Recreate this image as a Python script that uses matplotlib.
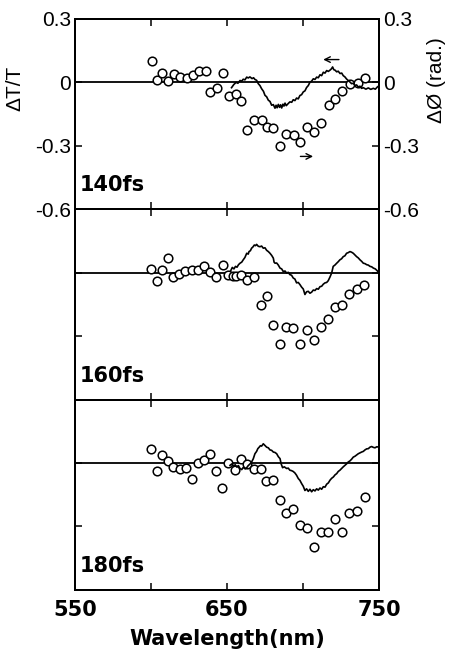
import numpy as np
import matplotlib
matplotlib.use('Agg')
import matplotlib.pyplot as plt

plt.rcParams['font.family'] = ['Liberation Sans', 'DejaVu Sans']
plt.rcParams['axes.unicode_minus'] = False

# Transmision (circulos, eje izquierdo)
Onda_T140 = [600.4, 603.7, 607.4, 611.4, 614.9, 619.1, 623.5, 627.4, 631.6, 636.0, 639.0, 643.4,
             647.6, 651.3, 655.7, 659.4, 663.4, 667.8, 672.8, 676.5, 680.5, 685.0, 688.8, 694.0,
             698.0, 702.4, 707.4, 711.8, 717.1, 721.3, 725.9, 730.9, 736.0, 740.8]
DT_140 = [0.100, 0.010, 0.045, 0.006, 0.040, 0.025, 0.020, 0.033, 0.053, 0.053, -0.045, -0.027,
          0.044, -0.066, -0.053, -0.088, -0.225, -0.180, -0.178, -0.210, -0.217, -0.300, -0.244, -0.249,
          -0.283, -0.212, -0.233, -0.190, -0.108, -0.080, -0.041, -0.006, -0.003, 0.020]

Onda_T160 = [600.0, 603.7, 607.4, 611.4, 614.7, 618.6, 622.6, 626.8, 631.1, 634.9, 638.8, 642.8,
             647.2, 650.9, 654.1, 655.7, 659.0, 663.4, 667.8, 672.2, 676.1, 680.5, 685.1, 688.8,
             693.6, 698.0, 702.4, 707.2, 711.8, 716.6, 721.1, 725.9, 730.5, 735.3, 740.3]
DT_160 = [0.019, -0.041, 0.011, 0.069, -0.022, -0.005, 0.006, 0.011, 0.014, 0.033, 0.003, -0.020,
          0.038, -0.009, -0.014, -0.017, -0.011, -0.036, -0.022, -0.151, -0.108, -0.245, -0.339, -0.259,
          -0.262, -0.339, -0.270, -0.319, -0.259, -0.220, -0.161, -0.151, -0.100, -0.076, -0.056]

Onda_T180 = [600.0, 603.7, 607.4, 611.4, 614.7, 619.1, 623.0, 627.2, 631.1, 634.9, 638.8, 642.8,
             646.9, 650.9, 655.3, 659.0, 662.9, 667.8, 672.2, 675.7, 680.5, 685.1, 688.8, 693.6,
             698.0, 702.4, 707.2, 711.6, 716.6, 721.1, 725.9, 730.5, 735.3, 740.8]
DT_180 = [0.064, -0.036, 0.036, 0.009, -0.019, -0.027, -0.023, -0.077, 0.000, 0.016, 0.044, -0.039,
          -0.116, 0.002, -0.031, 0.021, -0.003, -0.027, -0.027, -0.086, -0.081, -0.175, -0.237, -0.216,
          -0.295, -0.309, -0.397, -0.328, -0.328, -0.265, -0.325, -0.237, -0.226, -0.161]

# Fase (linea, eje derecho)
Onda_F140 = [653.0, 654.5, 656.0, 657.2, 658.6, 659.7, 660.7, 661.8, 663.0, 664.0, 665.1, 666.5,
             667.5, 668.4, 669.5, 670.6, 671.7, 672.8, 674.0, 675.0, 676.1, 677.2, 678.3, 679.4,
             680.5, 681.6, 682.3, 683.0, 683.8, 684.6, 685.3, 686.0, 686.8, 687.5, 688.2, 689.0,
             690.3, 691.4, 692.6, 693.6, 694.7, 695.8, 696.9, 698.0, 699.1, 700.2, 701.3, 702.4,
             703.5, 704.6, 705.7, 706.8, 707.9, 709.0, 710.1, 711.2, 712.3, 713.4, 714.5, 715.6,
             716.7, 717.8, 718.7, 719.5, 720.3, 721.1, 722.2, 723.2, 724.4, 725.5, 726.5, 727.6,
             728.7, 729.8, 730.9, 732.0, 733.1, 734.2, 735.3, 736.4, 737.5, 738.6, 739.7, 741.4,
             743.0, 744.6, 746.3, 747.6, 748.9, 750.0]
DF_140 = [-0.025, -0.010, 0.000, -0.004, 0.009, 0.006, 0.015, 0.012, 0.025, 0.021, 0.026, 0.018,
          0.022, 0.014, 0.010, -0.006, -0.015, -0.030, -0.042, -0.061, -0.068, -0.084, -0.090, -0.108,
          -0.105, -0.122, -0.108, -0.120, -0.104, -0.118, -0.106, -0.121, -0.103, -0.112, -0.098, -0.110,
          -0.100, -0.092, -0.094, -0.082, -0.086, -0.074, -0.078, -0.062, -0.058, -0.045, -0.040, -0.024,
          -0.015, 0.001, 0.006, 0.017, 0.014, 0.025, 0.022, 0.036, 0.032, 0.048, 0.044, 0.056,
          0.052, 0.058, 0.064, 0.073, 0.060, 0.058, 0.050, 0.053, 0.042, 0.044, 0.032, 0.026,
          0.016, 0.009, 0.002, -0.006, -0.004, -0.014, -0.012, -0.022, -0.018, -0.028, -0.025, -0.032,
          -0.026, -0.033, -0.028, -0.032, -0.022, -0.016]

Onda_F160 = [652.5, 653.5, 654.6, 655.6, 656.6, 657.6, 658.6, 659.7, 660.7, 661.8, 663.0, 664.0,
             664.5, 665.4, 666.2, 667.1, 668.0, 668.8, 669.5, 670.6, 671.7, 672.8, 673.9, 675.0,
             676.1, 677.2, 678.3, 679.4, 680.5, 681.0, 681.6, 682.7, 683.8, 684.9, 686.0, 687.0,
             688.2, 689.3, 690.3, 691.4, 692.5, 693.6, 694.7, 695.8, 696.9, 698.0, 699.1, 700.2,
             701.3, 702.4, 703.5, 704.6, 705.7, 706.8, 707.9, 709.0, 710.1, 711.2, 712.3, 713.4,
             714.5, 715.6, 716.6, 717.8, 718.9, 719.9, 721.0, 722.2, 723.2, 724.3, 725.4, 726.5,
             727.6, 728.7, 729.8, 730.9, 732.0, 733.1, 734.2, 735.3, 736.4, 737.5, 738.6, 739.7,
             740.8, 741.9, 743.0, 744.1, 745.2, 746.3, 747.6, 748.9, 750.0]
DF_160 = [0.010, 0.025, 0.018, 0.030, 0.026, 0.038, 0.045, 0.050, 0.061, 0.072, 0.092, 0.088,
          0.100, 0.104, 0.116, 0.122, 0.131, 0.128, 0.134, 0.125, 0.123, 0.126, 0.116, 0.118,
          0.106, 0.100, 0.092, 0.082, 0.069, 0.050, 0.045, 0.046, 0.036, 0.022, 0.018, 0.006,
          0.008, -0.002, 0.002, -0.009, -0.012, -0.025, -0.030, -0.048, -0.046, -0.056, -0.068, -0.077,
          -0.103, -0.090, -0.088, -0.097, -0.092, -0.082, -0.084, -0.075, -0.078, -0.066, -0.064, -0.054,
          -0.048, -0.046, -0.038, -0.020, -0.001, 0.030, 0.036, 0.045, 0.052, 0.061, 0.066, 0.076,
          0.080, 0.092, 0.095, 0.100, 0.097, 0.092, 0.084, 0.076, 0.070, 0.061, 0.054, 0.045,
          0.043, 0.038, 0.036, 0.030, 0.028, 0.022, 0.018, 0.009, -0.001]

Onda_F180 = [652.0, 653.2, 654.3, 655.4, 656.4, 657.5, 658.6, 659.7, 660.8, 662.0, 663.0, 664.0,
             665.1, 666.2, 667.3, 668.4, 669.5, 670.3, 671.2, 672.0, 672.8, 673.9, 675.0, 676.1,
             677.2, 678.3, 679.4, 680.5, 681.6, 682.7, 683.8, 684.9, 685.7, 686.6, 687.7, 689.3,
             690.3, 691.4, 692.5, 693.6, 694.7, 695.8, 696.9, 698.0, 699.1, 700.2, 701.3, 702.4,
             703.5, 704.6, 705.7, 706.8, 707.9, 709.0, 710.1, 711.2, 712.3, 713.4, 714.5, 715.6,
             716.7, 717.8, 718.9, 720.0, 721.1, 722.2, 723.2, 724.3, 725.4, 726.5, 727.6, 728.7,
             729.8, 730.9, 732.0, 733.1, 734.2, 735.3, 736.4, 737.5, 738.6, 739.7, 740.8, 741.9,
             743.0, 744.1, 745.2, 746.3, 747.4, 748.6, 750.0]
DF_180 = [-0.011, -0.004, -0.016, -0.008, -0.019, -0.012, -0.026, -0.031, -0.020, -0.028, -0.022, -0.012,
          -0.005, 0.005, 0.020, 0.044, 0.055, 0.068, 0.075, 0.082, 0.080, 0.091, 0.083, 0.075,
          0.072, 0.062, 0.060, 0.052, 0.050, 0.044, 0.030, 0.021, -0.005, -0.022, -0.018, -0.026,
          -0.024, -0.034, -0.036, -0.040, -0.047, -0.058, -0.073, -0.082, -0.097, -0.110, -0.130, -0.122,
          -0.134, -0.124, -0.136, -0.126, -0.132, -0.122, -0.128, -0.118, -0.124, -0.112, -0.114, -0.100,
          -0.094, -0.081, -0.072, -0.066, -0.056, -0.050, -0.040, -0.034, -0.026, -0.018, -0.011, -0.004,
          0.005, 0.010, 0.018, 0.028, 0.032, 0.038, 0.044, 0.048, 0.052, 0.055, 0.062, 0.067,
          0.068, 0.075, 0.078, 0.074, 0.072, 0.077, 0.075]

Retardos = ['140fs', '160fs', '180fs']
Ticks_Y = [0.3, 0, -0.3, -0.6]
Etiquetas_Y = ['0.3', '0', '-0.3', '-0.6']
Ticks_X = [550, 600, 650, 700, 750]
Etiquetas_X = ['550', '', '650', '', '750']

datos_T = [(Onda_T140, DT_140), (Onda_T160, DT_160), (Onda_T180, DT_180)]
datos_F = [(Onda_F140, DF_140), (Onda_F160, DF_160), (Onda_F180, DF_180)]

fig, axs = plt.subplots(3, 1, figsize=(4.49, 6.54), dpi=100, sharex=True)
plt.subplots_adjust(left=0.167, right=0.844, top=0.971, bottom=0.098, hspace=0)

for i, ax in enumerate(axs):
    ax2 = ax.twinx()
    ax.axhline(0, color='black', lw=1.3, zorder=1)
    ax.plot(datos_T[i][0], datos_T[i][1], 'o', ms=6.2, mfc='white', mec='black', mew=1.1, zorder=3)
    ax2.plot(datos_F[i][0], datos_F[i][1], '-', color='black', lw=1.2, zorder=2)

    for a in (ax, ax2):
        a.set_ylim(-0.6, 0.3)
        a.set_yticks(Ticks_Y)
        for s in a.spines.values():
            s.set_linewidth(1.4)
    ax.set_xlim(550, 750)
    ax.set_xticks(Ticks_X)
    ax.tick_params(axis='x', direction='in', top=True, length=5, width=1.1)
    ax.tick_params(axis='y', direction='in', length=5, width=1.1, labelsize=15, pad=3)
    ax2.tick_params(axis='y', direction='in', length=5, width=1.1, labelsize=15, pad=3)

    if i == 0:
        ax.set_yticklabels(Etiquetas_Y)
        ax2.set_yticklabels(Etiquetas_Y)
    else:
        ax.set_yticklabels([])
        ax2.set_yticklabels([])

    ax.text(0.016, 0.095, Retardos[i], transform=ax.transAxes, fontsize=15,
            fontweight='bold', family='DejaVu Sans', va='baseline', ha='left')

    if i == 0:
        # flechas que indican el eje de cada curva
        ax.annotate('', xy=(711.5, 0.108), xytext=(725.5, 0.108),
                    arrowprops=dict(arrowstyle='->', lw=1.0, color='black'))
        ax.annotate('', xy=(708.5, -0.35), xytext=(696.5, -0.35),
                    arrowprops=dict(arrowstyle='->', lw=1.0, color='black'))

axs[-1].set_xticklabels(Etiquetas_X, fontsize=15, fontweight='bold', family='DejaVu Sans')
axs[-1].tick_params(axis='x', pad=7)
axs[-1].set_xlabel('Wavelength(nm)', fontsize=15, fontweight='bold', family='DejaVu Sans', labelpad=7)

fig.text(0.033, 0.865, 'ΔT/T', rotation=90, fontsize=15, ha='center', va='center')
fig.text(0.972, 0.878, 'ΔØ (rad.)', rotation=90, fontsize=15, ha='center', va='center')

plt.savefig('out.png', dpi=100)
